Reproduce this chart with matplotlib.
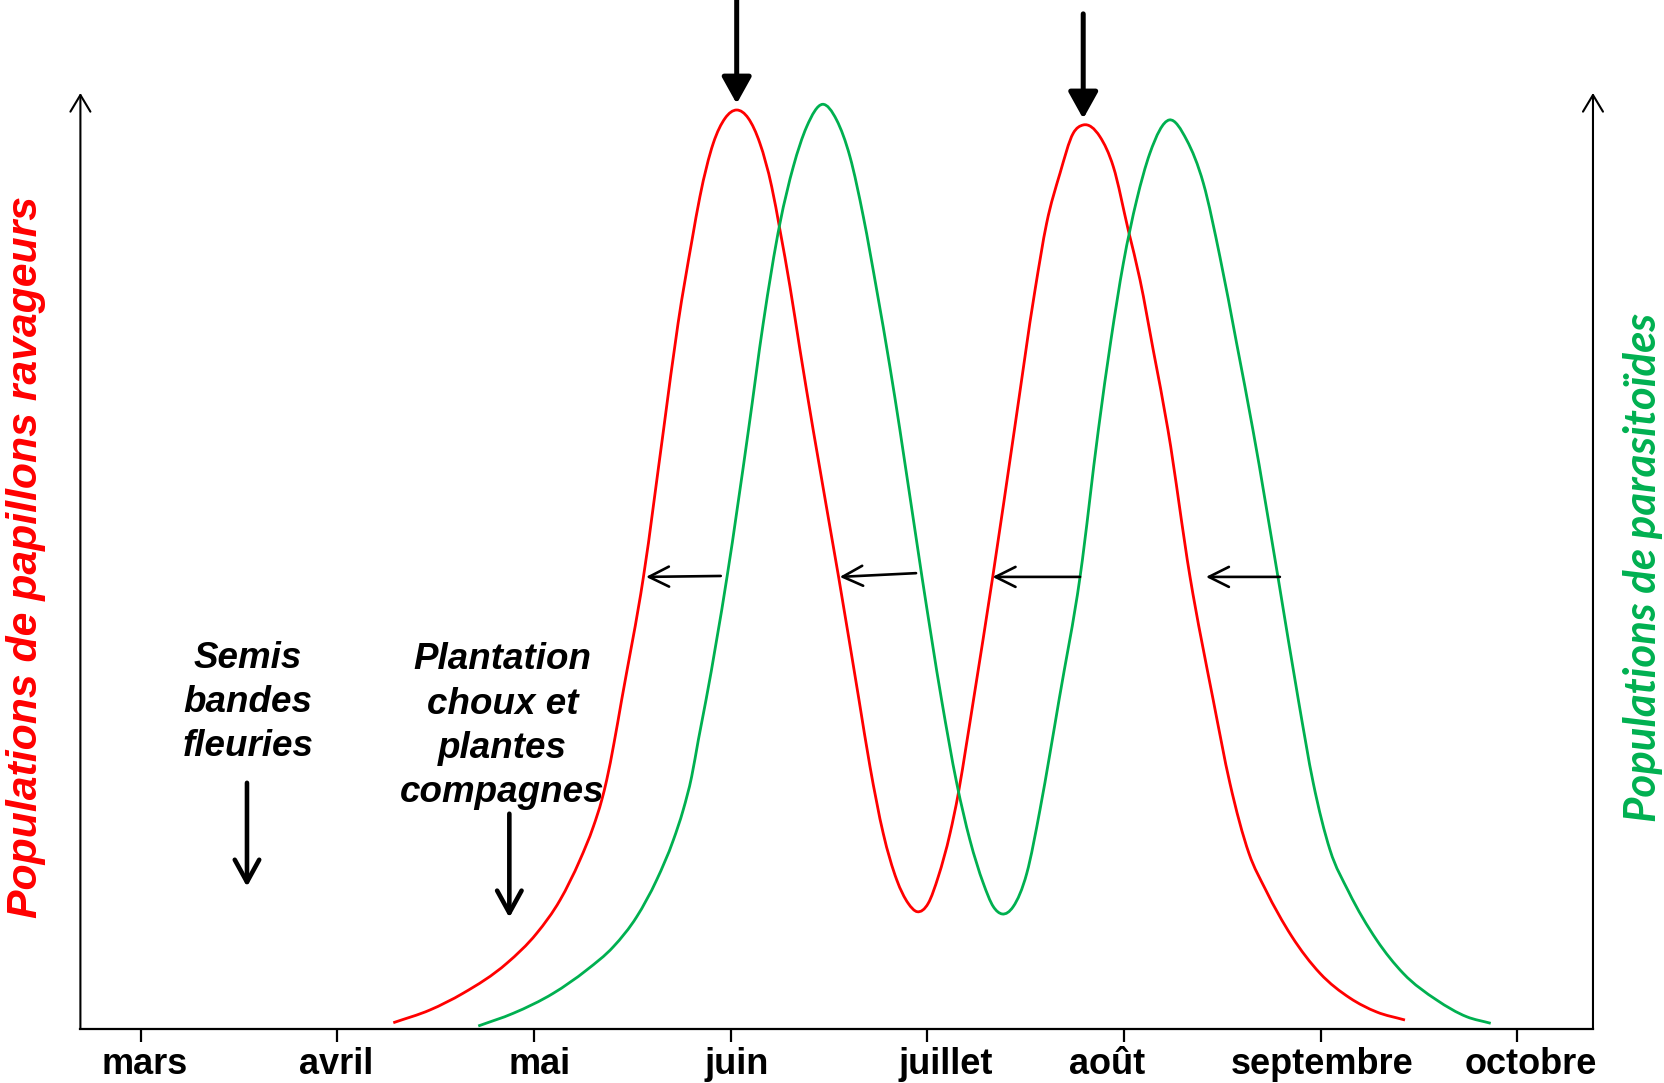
import numpy as np
import matplotlib
matplotlib.use('Agg')
import matplotlib.pyplot as plt
from matplotlib.path import Path
from matplotlib.patches import PathPatch
from matplotlib.transforms import ScaledTranslation

# mois (mars = 0 ... octobre = 7)
months = ['mars', 'avril', 'mai', 'juin', 'juillet', 'août', 'septembre', 'octobre']

# papillons ravageurs (rouge) : position en mois, niveau de population (0-100)
pest_x = [1.285, 1.471, 1.639, 1.862, 2.014, 2.133, 2.234, 2.302, 2.345, 2.370,
          2.407, 2.446, 2.557, 2.659, 2.733, 2.804, 2.844, 2.912, 2.972,
          3.031, 3.090, 3.149, 3.209, 3.251, 3.302, 3.353, 3.420, 3.549, 3.653,
          3.709, 3.776, 3.845, 3.903, 3.949, 4.005, 4.056, 4.116, 4.158, 4.200,
          4.235, 4.333, 4.443, 4.548, 4.607, 4.675, 4.742, 4.793, 4.878, 4.946,
          5.022, 5.082, 5.149, 5.224, 5.336, 5.454, 5.539, 5.636, 5.720, 5.852,
          5.997, 6.149, 6.285, 6.429]
pest_y = [0.67, 2.03, 3.81, 7.02, 10.22, 13.78, 18.06, 21.61, 24.47, 26.60,
          30.52, 35.15, 48.32, 64.0, 75.4, 84.3, 88.92, 94.63, 97.30,
          98.18, 97.30, 94.63, 89.99, 85.36, 79.31, 72.54, 64.0, 48.32, 35.15,
          28.02, 20.91, 15.92, 13.43, 12.53, 13.43, 16.27, 20.91, 25.18, 30.52,
          35.15, 48.32, 64.0, 78.95, 86.08, 91.42, 95.69, 96.58, 95.33, 92.13,
          85.36, 80.02, 72.54, 64.0, 48.32, 35.15, 26.25, 18.75, 14.90, 9.94,
          5.95, 3.31, 1.82, 0.96]

# parasitoïdes (vert)
para_x = [1.717, 1.895, 2.098, 2.268, 2.404, 2.523, 2.624, 2.709, 2.759, 2.802,
          2.836, 2.875, 2.982, 3.091, 3.166, 3.251, 3.319, 3.387, 3.468, 3.539,
          3.607, 3.675, 3.743, 3.810, 3.861, 3.973, 4.073, 4.150, 4.217, 4.285,
          4.336, 4.381, 4.437, 4.506, 4.573, 4.624, 4.670, 4.777, 4.870, 4.934,
          4.997, 5.065, 5.132, 5.231, 5.319, 5.404, 5.488, 5.573, 5.656, 5.783,
          5.887, 5.963, 6.048, 6.142, 6.285, 6.420, 6.590, 6.743, 6.865]
para_y = [0.32, 1.68, 3.81, 6.30, 8.79, 12.0, 15.92, 20.19, 23.40, 26.96,
          30.88, 35.15, 48.32, 64.0, 75.4, 86.08, 92.13, 96.40, 98.79, 97.12,
          93.19, 86.78, 78.95, 70.76, 64.0, 48.32, 35.15, 26.25, 20.19, 15.57,
          13.07, 12.29, 13.07, 16.63, 23.40, 29.45, 35.15, 48.32, 64.0, 73.61,
          81.80, 88.57, 93.56, 97.12, 94.98, 90.35, 82.51, 73.26, 64.0, 48.32,
          35.15, 26.25, 19.12, 14.69, 9.51, 5.95, 3.10, 1.31, 0.61]

# fleches de decalage (queue sur le vert -> pointe sur le rouge)
lag_arrows = [(2.950, 48.4, 2.570, 48.3), (3.943, 48.7, 3.555, 48.3),
              (4.777, 48.3, 4.332, 48.3), (5.793, 48.3, 5.417, 48.3)]

RED = '#FF0000'
GREEN = '#00B050'
BI = dict(family='Liberation Sans', weight='bold', style='italic')


def smooth_curve(ax, xs, ys, **kw):
    # trace lisse : segments de Bezier passant par les points lus
    # (pente en chaque point = difference centree sur 3 points)
    x = np.asarray(xs, float)
    y = np.asarray(ys, float)
    h = np.diff(x)
    s = np.diff(y) / h
    d = np.zeros_like(x)
    d[0], d[-1] = s[0], s[-1]
    for k in range(1, len(x) - 1):
        d[k] = (h[k] * s[k - 1] + h[k - 1] * s[k]) / (h[k - 1] + h[k])
    verts = [(x[0], y[0])]
    codes = [Path.MOVETO]
    for k in range(len(x) - 1):
        verts += [(x[k] + h[k] / 3, y[k] + d[k] * h[k] / 3),
                  (x[k + 1] - h[k] / 3, y[k + 1] - d[k + 1] * h[k] / 3),
                  (x[k + 1], y[k + 1])]
        codes += [Path.CURVE4] * 3
    ax.add_patch(PathPatch(Path(verts, codes), fill=False, capstyle='butt',
                           joinstyle='round', clip_on=False, **kw))


fig = plt.figure(figsize=(16.64, 10.83), dpi=100)
ax = fig.add_axes([0.04832, 0.04986, 0.9090, 0.8643])
ax.set_xlim(-0.306, 7.385)
ax.set_ylim(0, 100)

smooth_curve(ax, pest_x, pest_y, edgecolor=RED, lw=2.0)
smooth_curve(ax, para_x, para_y, edgecolor=GREEN, lw=2.0)

for s in ['top', 'left', 'right']:
    ax.spines[s].set_visible(False)
ax.spines['bottom'].set_linewidth(1.6)
ax.set_yticks([])
ax.set_xticks(range(len(months)))
ax.set_xticklabels(months, family='Liberation Sans', weight='bold', fontsize=26)
ax.tick_params(axis='x', direction='out', length=9, width=1.6, pad=4)

# petits decalages des libelles comme sur l'original (pixels)
shifts = [4, -1, 6, 6, 18, -17, 2, 14]
for lab, dx in zip(ax.get_xticklabels(), shifts):
    lab.set_transform(lab.get_transform() + ScaledTranslation(dx / 100, 0, fig.dpi_scale_trans))

# axes verticaux avec fleches
for xa in [0, 1]:
    ax.annotate('', xy=(xa, 1), xytext=(xa, 0), xycoords='axes fraction',
                arrowprops=dict(arrowstyle='->,head_length=0.4,head_width=0.24',
                                lw=1.5, mutation_scale=30, shrinkA=0, shrinkB=0,
                                color='black'))

# grosses fleches au-dessus des pics de ravageurs
py = np.array(pest_y)
peaks = [i for i in range(1, len(py) - 1) if py[i] > py[i - 1] and py[i] >= py[i + 1]]
for i in peaks:
    ax.annotate('', xy=(pest_x[i], pest_y[i]), xytext=(0, 80), textcoords='offset points',
                arrowprops=dict(arrowstyle='-|>,head_length=0.45,head_width=0.25',
                                lw=3.6, mutation_scale=36, shrinkA=0, shrinkB=4.5,
                                color='black'), annotation_clip=False)

# fleches horizontales vert -> rouge
for x0, y0, x1, y1 in lag_arrows:
    ax.annotate('', xy=(x1, y1), xytext=(x0, y0),
                arrowprops=dict(arrowstyle='->,head_length=0.4,head_width=0.2',
                                lw=1.9, mutation_scale=36, shrinkA=0, shrinkB=0,
                                color='black'))

# textes et fleches des operations
ax.text(0.546, 34.85, 'Semis\nbandes\nfleuries', ha='center', va='center',
        multialignment='center', fontsize=26.5, linespacing=1.34, **BI)
ax.text(1.840, 32.35, 'Plantation\nchoux et\nplantes\ncompagnes', ha='center', va='center',
        multialignment='center', fontsize=26.5, linespacing=1.34, **BI)
for xa, ya, yb in [(0.541, 26.3, 15.2), (1.875, 23.0, 11.9)]:
    ax.annotate('', xy=(xa, yb), xytext=(xa, ya),
                arrowprops=dict(arrowstyle='->,head_length=0.4,head_width=0.22',
                                lw=3.3, mutation_scale=40, shrinkA=0, shrinkB=0,
                                color='black'))

fig.text(26 / 1664, 1 - 557 / 1083, 'Populations de papillons ravageurs', color=RED,
         rotation=90, ha='center', va='center', fontsize=30.8, **BI)
fig.text(1643 / 1664, 1 - 567 / 1083, 'Populations de parasitoïdes', color=GREEN,
         rotation=90, ha='center', va='center', fontsize=31.5,
         family='Lato', weight='bold', style='italic')

fig.savefig('out.png', dpi=100)
